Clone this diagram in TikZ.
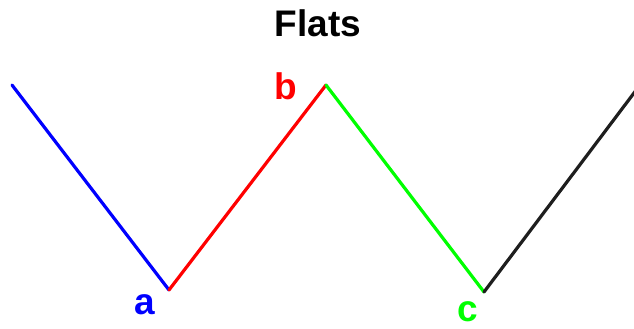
\documentclass[tikz,border=0pt]{standalone}
\usepackage{fontspec}
\setmainfont{Liberation Sans}
\definecolor{lblue}{RGB}{0,0,255}
\definecolor{lred}{RGB}{255,0,0}
\definecolor{lgreen}{RGB}{0,255,0}
\definecolor{lblack}{RGB}{30,30,30}
\tikzset{
  seg/.style={line width=3.2pt, line cap=round},
  lbl/.style={font=\fontsize{37}{44}\selectfont\bfseries, anchor=base, inner sep=0pt}
}
\begin{document}
\begin{tikzpicture}[x=1pt,y=-1pt]
\useasboundingbox (0,0) rectangle (634,329);
\clip (0,0) rectangle (634,329);
\coordinate (s) at (12,85);
\coordinate (a) at (169,290);
\coordinate (b) at (326,85);
\coordinate (c) at (484,292);
\coordinate (e) at (640,85);
\draw[seg, lblue] (s) -- (a);
\draw[seg, lred] (a) -- (b);
\draw[seg, lgreen] (b) -- (c);
\draw[seg, lblack] (c) -- (e);
\node[lbl] (title) at (318,37) {Flats};
\node[lbl, lblue] (la) at (145,314) {a};
\node[lbl, lred] (lb) at (286,99) {b};
\node[lbl, lgreen] (lc) at (468,321) {c};
\end{tikzpicture}
\end{document}
